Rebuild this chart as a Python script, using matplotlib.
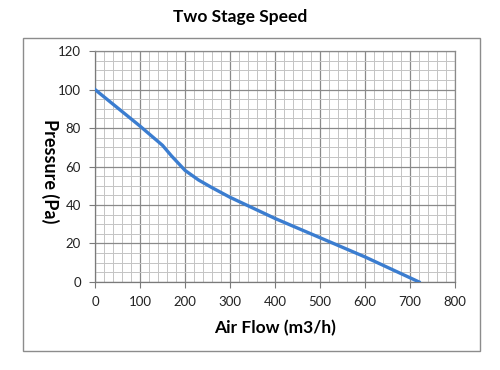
import matplotlib.pyplot as plt
import matplotlib.patches as patches
from matplotlib.ticker import MultipleLocator

# air flow (m3/h) vs pressure (Pa)
air_flow = [0, 50, 100, 130, 150, 170, 200, 230, 260, 300, 400, 500, 600, 720]
pressure = [100, 90.5, 81, 75, 71, 65.5, 58, 53, 49, 44, 33, 23, 13, 0]

plt.rcParams['font.family'] = ['Lato', 'DejaVu Sans']

fig = plt.figure(figsize=(5, 3.7), dpi=100)
ax = fig.add_axes([0.19, 0.238, 0.72, 0.624])

# outer chart frame
frame = patches.Rectangle((0.046, 0.051), 0.914, 0.846, transform=fig.transFigure,
                          fill=False, edgecolor='#8c8c8c', linewidth=1.0)
fig.add_artist(frame)

ax.plot(air_flow, pressure, color='#3b7dd0', linewidth=2.4, zorder=3)

ax.set_xlim(0, 800)
ax.set_ylim(0, 120)
ax.xaxis.set_major_locator(MultipleLocator(100))
ax.xaxis.set_minor_locator(MultipleLocator(20))
ax.yaxis.set_major_locator(MultipleLocator(20))
ax.yaxis.set_minor_locator(MultipleLocator(5))

ax.grid(which='major', color='#8a8a8a', linewidth=0.9)
ax.grid(which='minor', color='#c4c4c4', linewidth=0.7)
ax.set_axisbelow(True)

for side in ['top', 'right']:
    ax.spines[side].set_color('#8a8a8a')
    ax.spines[side].set_linewidth(0.9)
for side in ['left', 'bottom']:
    ax.spines[side].set_color('#7a7a7a')
    ax.spines[side].set_linewidth(0.9)

ax.tick_params(which='major', length=4, color='#7a7a7a', labelsize=9.5, labelcolor='#222222', pad=6)
ax.tick_params(which='minor', length=0)

ax.set_xlabel('Air Flow (m3/h)', fontsize=12.5, fontweight='bold', labelpad=9)
ax.set_ylabel('Pressure (Pa)', fontsize=13, fontweight='bold', rotation=270, va='center')
ax.yaxis.set_label_coords(-0.125, 0.48)
fig.text(0.48, 0.953, 'Two Stage Speed', ha='center', va='center', fontsize=12.5, fontweight='bold')

fig.savefig('out.png', dpi=100)
